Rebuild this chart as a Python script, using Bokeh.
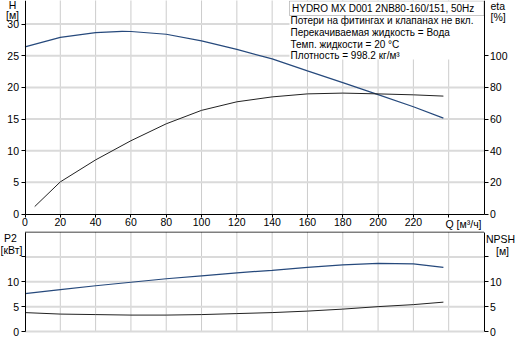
from bokeh.plotting import figure
from bokeh.models import Range1d, LinearAxis, FixedTicker, Grid, Label, BoxAnnotation
from bokeh.layouts import column
from bokeh.embed import file_html
from bokeh.resources import INLINE

# ---------------- data ----------------
q_h = [0, 20, 40, 55, 60, 80, 100, 120, 140, 160, 180, 200, 220, 237]
h_m = [26.4, 27.9, 28.65, 28.85, 28.83, 28.4, 27.35, 26.0, 24.5, 22.6, 20.75, 18.85, 16.95, 15.15]

q_eta = [5.5, 20, 40, 60, 80, 100, 120, 140, 160, 180, 200, 220, 237]
eta_pct = [4.7, 20.3, 34.2, 46.3, 57.0, 65.5, 70.9, 74.0, 75.9, 76.4, 75.9, 75.3, 74.5]

q_low = [0, 20, 40, 60, 80, 100, 120, 140, 160, 180, 200, 220, 237]
p2_kw = [7.6, 8.4, 9.2, 9.9, 10.6, 11.2, 11.8, 12.3, 12.9, 13.4, 13.7, 13.6, 12.9]
npsh_m = [3.8, 3.5, 3.4, 3.3, 3.3, 3.4, 3.6, 3.8, 4.1, 4.5, 5.0, 5.4, 5.9]

q_ticks = [0, 20, 40, 60, 80, 100, 120, 140, 160, 180, 200, 220, 240]
h_ticks = [0, 5, 10, 15, 20, 25, 30]
eta_ticks = [0, 20, 40, 60, 80, 100]
low_ticks = [0, 5, 10, 15]

title_text = "HYDRO MX D001 2NB80-160/151, 50Hz"
info_lines = [
    "Потери на фитингах и клапанах не вкл.",
    "Перекачиваемая жидкость = Вода",
    "Темп. жидкости = 20 °C",
    "Плотность = 998.2 кг/м³",
]

# ---------------- style / geometry ----------------
FONT = "Liberation Sans"
FS_TICK = "10.5px"
FS_TEXT = "10px"
BLUE = "#26497c"
DARK = "#222222"
GRID_H = "#dadada"
GRID_V = "#cccccc"

W = 515
TOP_H = 231
BOT_H = 107
Q_MAX = 260
H_TOP = 33.73
LOW_MAX = 20

X0_PAGE, XR_PAGE = 32.5, 491.5          # page x of Q=0 and Q=260
PXQ = (XR_PAGE - X0_PAGE) / Q_MAX
PXH = 6.33                               # px per metre head
H0_PAGE = 221.5                          # page y of H=0
L0_PAGE = 339.0                          # page y of P2=0
L20_PAGE = 239.5                         # page y of P2=20
PXL = (L0_PAGE - L20_PAGE) / LOW_MAX


def tq(x):
    return (x - X0_PAGE) / PXQ


def th(y):
    return (H0_PAGE - y) / PXH


def bp(y):
    return (L0_PAGE - y) / PXL


x_range = Range1d(tq(8), tq(8 + W))


def base_fig(height, y_range):
    p = figure(width=W, height=height, x_range=x_range, y_range=y_range,
               output_backend="svg", toolbar_location=None,
               x_axis_location=None, y_axis_location=None,
               min_border_left=0, min_border_right=0,
               min_border_top=0, min_border_bottom=0)
    p.outline_line_color = None
    for r in list(p.center):
        if isinstance(r, Grid):
            r.visible = False
    return p


def style_axis(ax):
    ax.axis_line_color = "black"
    ax.major_tick_line_color = "black"
    ax.major_tick_out = 4
    ax.major_tick_in = 0
    ax.minor_tick_line_color = None
    ax.major_label_standoff = 2
    ax.major_label_text_font = FONT
    ax.major_label_text_font_size = FS_TICK
    ax.major_label_text_color = "black"


def add_label(p, x, y, text, align="left", size=FS_TEXT):
    p.add_layout(Label(x=x, y=y, text=text, text_align=align, text_baseline="middle",
                       text_font=FONT, text_font_size=size, text_color="black"))


# ---------------- top figure ----------------
top = base_fig(TOP_H, Range1d(th(8 + TOP_H), th(8)))
top.extra_y_ranges = {"eta": Range1d(th(8 + TOP_H) * 4, th(8) * 4)}

# grid lines
vq = q_ticks[1:]
top.segment(x0=vq, y0=[0] * len(vq), x1=vq, y1=[H_TOP + 1] * len(vq),
            line_color=GRID_V, line_width=1)
hh = h_ticks[1:]
top.segment(x0=[0] * len(hh), y0=hh, x1=[Q_MAX] * len(hh), y1=hh,
            line_color=GRID_H, line_width=2)

# curves
top.line(q_h, h_m, line_color=BLUE, line_width=1.2)
top.line(q_eta, eta_pct, line_color=DARK, line_width=1, y_range_name="eta")

# axes fixed at the plot-area edges
ax_h = LinearAxis(ticker=FixedTicker(ticks=h_ticks), fixed_location=0, bounds=(0, H_TOP + 1))
style_axis(ax_h)
top.add_layout(ax_h, "left")
ax_eta = LinearAxis(y_range_name="eta", ticker=FixedTicker(ticks=eta_ticks),
                    fixed_location=Q_MAX, bounds=(0, (H_TOP + 1) * 4))
style_axis(ax_eta)
top.add_layout(ax_eta, "right")
ax_q = LinearAxis(ticker=FixedTicker(ticks=q_ticks), fixed_location=0,
                  bounds=(0, Q_MAX), major_label_overrides={240: ""})
style_axis(ax_q)
ax_q.major_tick_out = 3
ax_q.major_label_standoff = 1
top.add_layout(ax_q, "below")

# info block
top.add_layout(BoxAnnotation(left=tq(297), right=Q_MAX, bottom=th(67), top=th(23),
                             fill_color="white", fill_alpha=1, line_color=None))
top.add_layout(BoxAnnotation(left=tq(297), right=Q_MAX, bottom=th(23), top=th(8.5),
                             fill_color="white", fill_alpha=1, line_color="#444444",
                             line_width=1))
add_label(top, tq(299.5), th(15.5), title_text)
for txt, yy in zip(info_lines, [28, 39.8, 51.6, 63.3]):
    add_label(top, tq(298), th(yy), txt)

add_label(top, tq(20), th(12.5), "H", "center", FS_TICK)
add_label(top, tq(20), th(22.5), "[м]", "center", FS_TICK)
add_label(top, tq(498), th(13), "eta", "left", FS_TICK)
add_label(top, tq(498), th(24.5), "[%]", "left", FS_TICK)
add_label(top, tq(453), th(231), "Q [м³/ч]", "left", FS_TICK)

# ---------------- bottom figure ----------------
bot_top_page = 8 + TOP_H
bot = base_fig(BOT_H, Range1d(bp(bot_top_page + BOT_H), bp(bot_top_page)))
bot.extra_y_ranges = {"npsh": Range1d(bp(bot_top_page + BOT_H), bp(bot_top_page))}

bot.segment(x0=vq, y0=[0] * len(vq), x1=vq, y1=[LOW_MAX] * len(vq),
            line_color=GRID_V, line_width=1)
bot.segment(x0=[0] * len(low_ticks), y0=low_ticks, x1=[Q_MAX] * len(low_ticks),
            y1=low_ticks, line_color=GRID_H, line_width=2)
bot.line(x=[0, Q_MAX], y=[LOW_MAX, LOW_MAX], line_color="black", line_width=1)

bot.line(q_low, p2_kw, line_color=BLUE, line_width=1.2)
bot.line(q_low, npsh_m, line_color=DARK, line_width=1, y_range_name="npsh")

ax_p2 = LinearAxis(ticker=FixedTicker(ticks=low_ticks), major_label_overrides={15: ""},
                   fixed_location=0, bounds=(0, LOW_MAX))
style_axis(ax_p2)
bot.add_layout(ax_p2, "left")
ax_np = LinearAxis(y_range_name="npsh", ticker=FixedTicker(ticks=low_ticks),
                   major_label_overrides={15: ""}, fixed_location=Q_MAX, bounds=(0, LOW_MAX))
style_axis(ax_np)
bot.add_layout(ax_np, "right")

add_label(bot, tq(18), bp(245.5), "P2", "center", FS_TICK)
add_label(bot, tq(19), bp(257.5), "[кВт]", "center", FS_TICK)
add_label(bot, tq(508), bp(246), "NPSH", "center", FS_TICK)
add_label(bot, tq(510), bp(258.5), "[м]", "center", FS_TICK)

layout = column(top, bot)
open("out.html", "w").write(file_html(layout, INLINE))
